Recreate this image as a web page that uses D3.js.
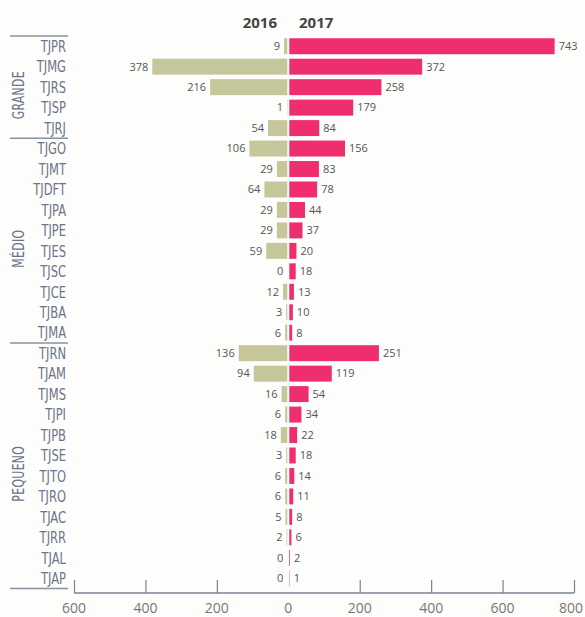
<!DOCTYPE html>
<html>
<head>
<meta charset="utf-8">
<script src="https://cdn.jsdelivr.net/npm/d3@7"></script>
<style>
  body { margin: 0; background: #fdfdfb; }
  svg { display: block; }
</style>
</head>
<body>
<div id="chart"></div>
<script>
"use strict";
const tribunais = ["TJPR", "TJMG", "TJRS", "TJSP", "TJRJ",
    "TJGO", "TJMT", "TJDFT", "TJPA", "TJPE", "TJES", "TJSC", "TJCE", "TJBA", "TJMA",
    "TJRN", "TJAM", "TJMS", "TJPI", "TJPB", "TJSE", "TJTO", "TJRO", "TJAC", "TJRR", "TJAL", "TJAP"];
const v2016 = [9, 378, 216, 1, 54, 106, 29, 64, 29, 29, 59, 0, 12, 3, 6, 136, 94, 16, 6, 18, 3, 6, 6, 5, 2, 0, 0];
const v2017 = [743, 372, 258, 179, 84, 156, 83, 78, 44, 37, 20, 18, 13, 10, 8, 251, 119, 54, 34, 22, 18, 14, 11, 8, 6, 2, 1];
const grupos = [
    {nome: "GRANDE", first: "TJPR", last: "TJRJ"},
    {nome: "MÉDIO", first: "TJGO", last: "TJMA"},
    {nome: "PEQUENO", first: "TJRN", last: "TJAP"}
];
const xTicks = [-600, -400, -200, 200, 400, 600, 800];
const xLabels = [-600, -400, -200, 0, 200, 400, 600, 800];

const width = 585, height = 617;
const color2016 = "#c5c79b", color2017 = "#ef2e6e";
const labelColor = "#6c7488", valueColor = "#555";
const narrow = "'DejaVu Sans Condensed', 'DejaVu Sans', sans-serif";

const data = tribunais.map((t, i) => ({t, a: v2016[i], b: v2017[i]}));

const x = d3.scaleLinear().domain([-600, 800]).range([74, 574]);
const y = d3.scaleBand().domain(tribunais).range([36, 588.5]).paddingInner(0.22).paddingOuter(0.11);

const svg = d3.select("#chart").append("svg")
    .attr("width", width)
    .attr("height", height)
    .attr("viewBox", [0, 0, width, height]);

// headers
svg.append("text")
    .attr("x", 277).attr("y", 28)
    .attr("text-anchor", "end")
    .style("font", "bold 15px 'Open Sans', sans-serif")
    .style("fill", "#454545")
    .text("2016");
svg.append("text")
    .attr("x", 299).attr("y", 28)
    .attr("text-anchor", "start")
    .style("font", "bold 15px 'Open Sans', sans-serif")
    .style("fill", "#454545")
    .text("2017");

// bars 2016 (left)
svg.append("g").selectAll("rect")
    .data(data)
    .join("rect")
    .attr("x", d => x(-d.a) - 1)
    .attr("y", d => y(d.t))
    .attr("width", d => x(0) - x(-d.a))
    .attr("height", y.bandwidth())
    .attr("fill", color2016);

// bars 2017 (right)
svg.append("g").selectAll("rect")
    .data(data)
    .join("rect")
    .attr("x", x(0) + 1)
    .attr("y", d => y(d.t))
    .attr("width", d => x(d.b) - x(0))
    .attr("height", y.bandwidth())
    .attr("fill", color2017);

// value labels
const valFont = "11px 'Open Sans', sans-serif";
svg.append("g").selectAll("text")
    .data(data)
    .join("text")
    .attr("x", d => x(-d.a) - 5)
    .attr("y", d => y(d.t) + y.bandwidth() / 2)
    .attr("dy", "0.35em")
    .attr("text-anchor", "end")
    .style("font", valFont)
    .style("fill", valueColor)
    .text(d => d.a);
svg.append("g").selectAll("text")
    .data(data)
    .join("text")
    .attr("x", d => x(d.b) + 5)
    .attr("y", d => y(d.t) + y.bandwidth() / 2)
    .attr("dy", "0.35em")
    .attr("text-anchor", "start")
    .style("font", valFont)
    .style("fill", valueColor)
    .text(d => d.b);

// category labels (squeezed to look condensed)
svg.append("g").selectAll("text")
    .data(tribunais)
    .join("text")
    .attr("transform", d => `translate(66, ${y(d) + y.bandwidth() / 2}) scale(0.8, 1)`)
    .attr("dy", "0.36em")
    .attr("text-anchor", "end")
    .style("font", "16px " + narrow)
    .style("fill", labelColor)
    .text(d => d);

// group separators and labels
const step = y.step();
const bandTop = d => y(d) - (step - y.bandwidth()) / 2;
const bounds = [bandTop(grupos[0].first)].concat(grupos.map(g => bandTop(g.last) + step));
svg.append("g").selectAll("line")
    .data(bounds)
    .join("line")
    .attr("x1", 10).attr("x2", 68)
    .attr("y1", d => d).attr("y2", d => d)
    .attr("stroke", "#8a91a3")
    .attr("stroke-width", 1.5);

svg.append("g").selectAll("text")
    .data(grupos)
    .join("text")
    .attr("transform", g => `translate(24, ${(bandTop(g.first) + bandTop(g.last) + step) / 2 + 8}) rotate(-90) scale(0.8, 1)`)
    .attr("text-anchor", "middle")
    .style("font", "15px " + narrow)
    .style("letter-spacing", "0.5px")
    .style("fill", labelColor)
    .text(g => g.nome);

// x axis
const axisY = 593;
svg.append("g")
    .attr("transform", `translate(0, ${axisY})`)
    .call(d3.axisTop(x).tickValues(xTicks).tickSize(13).tickFormat(""))
    .call(g => g.select(".domain").attr("stroke", "#7a8296").attr("stroke-width", 1.5).attr("d", `M${x(-600)},0H${x(800)}`))
    .call(g => g.selectAll(".tick line").attr("stroke", "#7a8296").attr("stroke-width", 1.2));

svg.append("g").selectAll("text")
    .data(xLabels)
    .join("text")
    .attr("x", d => Math.min(x(d), width - 14))
    .attr("y", 613)
    .attr("text-anchor", "middle")
    .style("font", "14px 'Open Sans', sans-serif")
    .style("fill", "#777")
    .text(d => Math.abs(d));
</script>
</body>
</html>
